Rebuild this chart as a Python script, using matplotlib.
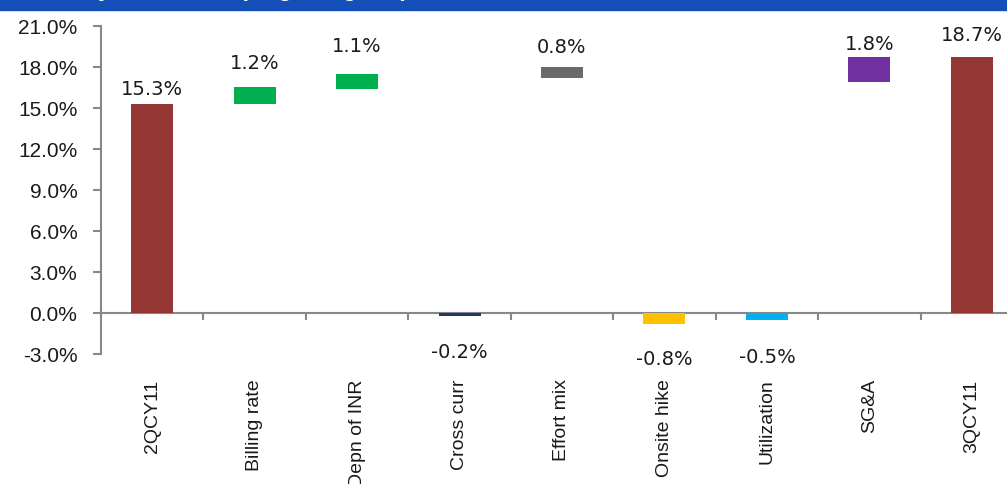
import matplotlib
matplotlib.use("Agg")
import matplotlib.pyplot as plt
from matplotlib.patches import Rectangle
import numpy as np

# Margin bridge 2QCY11 -> 3QCY11 (values in %)
categories = ["2QCY11", "Billing rate", "Depn of INR", "Cross curr", "Effort mix",
              "Onsite hike", "Utilization", "SG&A", "3QCY11"]
values = [15.3, 1.2, 1.1, -0.2, 0.8, -0.8, -0.5, 1.8, 18.7]
bases = [0.0, 15.3, 16.4, 0.0, 17.2, 0.0, 0.0, 16.9, 0.0]
colors = ["#943634", "#00B050", "#00B050", "#1F3864", "#6A6A6A",
          "#FFC000", "#00B0F0", "#7030A0", "#943634"]
# label offsets from bar end, in pixels
label_offsets = [15, 25, 28, -36, 20, -35, -37, 14, 23]

W, H = 1007, 485
fig = plt.figure(figsize=(W / 100, H / 100), dpi=100)

# blue banner with the (cut off) title
fig.add_artist(Rectangle((0, 1 - 11 / H), 1, 11 / H, transform=fig.transFigure,
                         color="#1450B8", zorder=0))
fig.text(68 / W, 1 + 4 / H, "Key drivers keeping margin up", color="white",
         fontsize=17, fontweight="bold", family="Liberation Sans", va="baseline")

ax = fig.add_axes([101 / W, 1 - 355 / H, 922 / W, 328 / H])
x = np.arange(len(categories))
ax.bar(x, values, bottom=bases, width=0.41, color=colors, zorder=3)

for xi, v, b, off in zip(x, values, bases, label_offsets):
    end = b + v
    ax.annotate(f"{v:.1f}%", (xi, end), xytext=(0, off), textcoords="offset pixels",
                ha="center", va="center", fontsize=14, family="DejaVu Sans",
                color="#1a1a1a")

ax.set_xlim(-0.5, len(categories) - 0.5)
ax.set_ylim(-3, 21)
ax.set_yticks(np.arange(-3, 22, 3))
ax.set_yticklabels([f"{t:.1f}%" for t in np.arange(-3, 22, 3)],
                   fontsize=15, family="Liberation Sans", color="#1a1a1a")
ax.tick_params(axis="y", direction="out", length=6, width=1.5, color="#888888", pad=11)

for s in ["top", "right"]:
    ax.spines[s].set_visible(False)
ax.spines["left"].set_color("#888888")
ax.spines["left"].set_linewidth(1.5)
ax.spines["bottom"].set_position(("data", 0))
ax.spines["bottom"].set_color("#888888")
ax.spines["bottom"].set_linewidth(1.5)

# boundaries as major ticks, category names as minor ticks
ax.set_xticks(np.arange(len(categories)) + 0.5)
ax.set_xticklabels([])
ax.tick_params(axis="x", which="major", direction="out", length=5, width=1.5, color="#888888")
ax.set_xticks(x, minor=True)
ax.set_xticklabels(categories, minor=True, rotation=90, fontsize=14,
                   family="Liberation Sans", color="#1a1a1a")
ax.tick_params(axis="x", which="minor", length=0, pad=47)

fig.savefig("out.png", dpi=100)
